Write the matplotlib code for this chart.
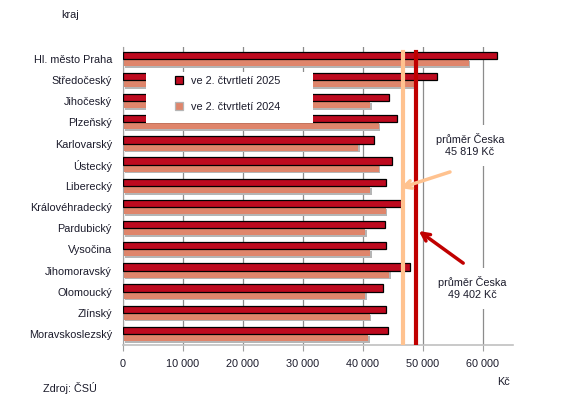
import matplotlib
matplotlib.use("Agg")
import matplotlib.pyplot as plt
import matplotlib.patheffects as pe
from matplotlib.lines import Line2D
from matplotlib.patches import Rectangle
import numpy as np

plt.rcParams['font.family'] = ['Liberation Sans', 'DejaVu Sans']

regions = ["Hl. město Praha", "Středočeský", "Jihočeský", "Plzeňský", "Karlovarský",
           "Ústecký", "Liberecký", "Královéhradecký", "Pardubický", "Vysočina",
           "Jihomoravský", "Olomoucký", "Zlínský", "Moravskoslezský"]
wage_2025 = [62300, 52300, 44400, 45600, 41900, 44900, 43900, 46400, 43600, 43900,
             47900, 43400, 43900, 44200]
wage_2024 = [57600, 48600, 41200, 42600, 39200, 42600, 41200, 43800, 40400, 41200,
             44400, 40400, 41100, 40900]
avg_line_2025 = 48800   # drawn position of the 2025 average line
avg_line_2024 = 46700   # drawn position of the 2024 average line
avg_label_2025 = "průměr Česka\n49 402 Kč"
avg_label_2024 = "průměr Česka\n45 819 Kč"
xticks = [0, 10000, 20000, 30000, 40000, 50000, 60000]
xtick_labels = ["0", "10 000", "20 000", "30 000", "40 000", "50 000", "60 000"]

RED = "#BE0A1F"
SALMON = "#DF856B"
LIGHT = "#FFC28F"
LINE_RED = "#C00000"
TXT = "#1b1b2b"
FS = 7.8

fig = plt.figure(figsize=(5.61, 4.09), dpi=100)
ax = fig.add_axes([123/561, 1-345/409, 390/561, 298/409])

y = np.arange(len(regions))
shadow = [pe.SimplePatchShadow(offset=(1.2, -1.2), shadow_rgbFace="#b5b5b5", alpha=1), pe.Normal()]
b1 = ax.barh(y - 0.172, wage_2025, height=0.345, color=RED, edgecolor="black",
             linewidth=0.9, zorder=3)
b2 = ax.barh(y + 0.165, wage_2024, height=0.33, color=SALMON, edgecolor="none",
             zorder=2)
for r in b2:
    r.set_path_effects(shadow)

ax.set_xlim(0, 65000)
ax.set_ylim(13.52, -0.567)
ax.set_yticks(y)
ax.set_yticklabels(regions, fontsize=FS, color=TXT)
ax.set_xticks(xticks)
ax.set_xticklabels(xtick_labels, fontsize=FS, color=TXT)
ax.tick_params(axis="y", length=0, pad=8)
ax.tick_params(axis="x", length=4, direction="out", color="#a0a0a0", pad=6)
ax.xaxis.grid(True, color="#8c8c8c", linewidth=0.9, zorder=0)
ax.set_axisbelow(True)
for s in ["top", "right"]:
    ax.spines[s].set_visible(False)
ax.spines["left"].set_color("#a0a0a0")
ax.spines["bottom"].set_color("#c0c0c0")
ax.spines["bottom"].set_linewidth(1.2)

ax.axvline(avg_line_2024, ymin=0, ymax=0.983, color=LIGHT, linewidth=3, zorder=6)
ax.axvline(avg_line_2025, ymin=0, ymax=0.983, color=LINE_RED, linewidth=3, zorder=6)

ax.text(57800, 4.07, avg_label_2024, fontsize=FS, color=TXT, ha="center", va="center",
        zorder=7, bbox=dict(boxstyle="square,pad=0.8", fc="white", ec="none"))
ax.annotate("", xy=(46200, 6.1), xytext=(54500, 5.34),
            arrowprops=dict(arrowstyle="->", color=LIGHT, lw=2.5,
                            shrinkA=0, shrinkB=0, mutation_scale=14), zorder=7)
ax.text(58170, 10.83, avg_label_2025, fontsize=FS, color=TXT, ha="center", va="center",
        zorder=7, bbox=dict(boxstyle="square,pad=0.8", fc="white", ec="none"))
ax.annotate("", xy=(49300, 8.13), xytext=(56700, 9.65),
            arrowprops=dict(arrowstyle="->", color=LINE_RED, lw=2.5,
                            shrinkA=0, shrinkB=0, mutation_scale=14), zorder=7)

# legend box covering bars
fig.patches.append(Rectangle((146/561, 1-123/409), 167/561, 51/409,
                             transform=fig.transFigure, facecolor="white",
                             edgecolor="none", zorder=8))
handles = [Line2D([], [], marker="s", linestyle="none", markersize=5.5,
                  markerfacecolor=RED, markeredgecolor="black", markeredgewidth=0.9),
           Line2D([], [], marker="s", linestyle="none", markersize=5.5,
                  markerfacecolor=SALMON, markeredgecolor="#b5b5b5", markeredgewidth=0.9)]
leg = fig.legend(handles, ["ve 2. čtvrtletí 2025", "ve 2. čtvrtletí 2024"],
                 loc="upper left", bbox_to_anchor=(174/561, 1-76/409),
                 frameon=False, fontsize=FS, handlelength=1.0, handletextpad=0.6,
                 labelspacing=1.45, borderpad=0, borderaxespad=0)
leg.set_zorder(9)
for t in leg.get_texts():
    t.set_color(TXT)

fig.text(70/561, 1-15/409, "kraj", fontsize=FS, color=TXT, ha="center", va="center")
fig.text(503/561, 1-382/409, "Kč", fontsize=FS, color=TXT, ha="center", va="center")
fig.text(43/561, 1-388/409, "Zdroj: ČSÚ", fontsize=FS, color=TXT, ha="left", va="center")

fig.savefig("out.png", dpi=100)
